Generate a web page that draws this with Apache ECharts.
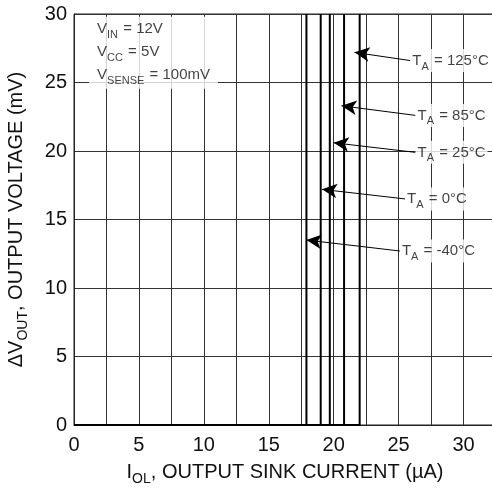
<!DOCTYPE html>
<html><head><meta charset="utf-8">
<script src="https://cdn.jsdelivr.net/npm/echarts@6/dist/echarts.min.js"></script>
<style>html,body{margin:0;padding:0;background:#fff}#c{width:492px;height:489px}</style>
</head><body><div id="c"></div>
<script>
// Data
const temps = ['125°C', '85°C', '25°C', '0°C', '-40°C'];
const thresholdCurrent = [22.0, 20.8, 19.7, 19.0, 17.9]; // µA where ΔVout jumps
const yTop = 30;
const arrowTail = [[25.9, 26.6], [26.3, 22.6], [26.3, 19.9], [25.5, 16.5], [25.1, 12.7]];
const arrowTip = [[21.6, 27.2], [20.6, 23.3], [20.0, 20.6], [19.1, 17.2], [17.9, 13.5]];
const xTicks = [0, 5, 10, 15, 20, 25, 30];
const yTicks = [0, 5, 10, 15, 20, 25, 30];
const conditionsPos = [1.16, 29.8];

const FONT = 'Liberation Sans, Arial, sans-serif';
const rich = {
  n: { fontSize: 15, fontFamily: FONT, color: '#111', lineHeight: 23, verticalAlign: 'middle' },
  s: { fontSize: 11, fontFamily: FONT, color: '#111', lineHeight: 23, verticalAlign: 'bottom', padding: [0, 1, 0, 0] }
};
const nameRich = {
  n: { fontSize: 20, fontFamily: FONT, color: '#111', lineHeight: 28, verticalAlign: 'middle' },
  s: { fontSize: 14, fontFamily: FONT, color: '#111', lineHeight: 28, verticalAlign: 'bottom' }
};

const series = temps.map((t, i) => ({
  type: 'line',
  name: t,
  data: [[0, 0], [thresholdCurrent[i], 0], [thresholdCurrent[i], yTop]],
  symbol: 'none',
  lineStyle: { color: '#000', width: 2 },
  z: 3,
  silent: true
}));

series.push({
  type: 'line',
  data: [],
  silent: true,
  markLine: {
    silent: true,
    symbol: ['none', 'arrow'],
    symbolSize: [11, 15],
    lineStyle: { color: '#000', width: 1, type: 'solid' },
    label: { show: false },
    data: temps.map((t, i) => [{ coord: arrowTail[i] }, { coord: arrowTip[i] }])
  },
  z: 4
});

series.push({
  type: 'scatter',
  symbolSize: 0,
  silent: true,
  data: temps.map((t, i) => arrowTail[i]),
  label: {
    show: true,
    position: 'right',
    distance: 0,
    backgroundColor: '#fff',
    padding: [0, 2, 0, 2],
    formatter: p => '{n|T}{s|A}{n| = ' + temps[p.dataIndex] + '}',
    rich: rich
  },
  z: 5
});

series.push({
  type: 'scatter',
  symbolSize: 0,
  silent: true,
  data: [conditionsPos],
  label: {
    show: true,
    position: 'right',
    distance: 0,
    align: 'left',
    verticalAlign: 'top',
    backgroundColor: '#fff',
    padding: [1, 8, 2, 8],
    formatter: () => '{n|V}{s|IN}{n| = 12V}\n{n|V}{s|CC}{n| = 5V}\n{n|V}{s|SENSE}{n| = 100mV}',
    rich: rich
  },
  z: 5
});

const chart = echarts.init(document.getElementById('c'), null, { renderer: 'canvas' });
chart.setOption({
  animation: false,
  backgroundColor: '#fff',
  grid: { left: 74, top: 14, right: -4, bottom: 64, containLabel: false, outerBoundsMode: 'none',
          show: true, borderColor: '#222', borderWidth: 1 },
  xAxis: {
    type: 'value', min: 0, max: 32.5, interval: 2.5,
    axisLine: { show: true, lineStyle: { color: '#222', width: 1 } },
    axisTick: { show: false },
    axisLabel: {
      fontSize: 20, fontFamily: FONT, color: '#111', margin: 10, showMaxLabel: false,
      formatter: v => (xTicks.indexOf(v) >= 0 ? String(v) : '')
    },
    splitLine: { show: true, lineStyle: { color: '#333', width: 1 } },
    name: '{n|I}{s|OL}{n|, OUTPUT SINK CURRENT (µA)}',
    nameLocation: 'middle', nameGap: 33,
    nameTextStyle: { rich: nameRich }
  },
  yAxis: {
    type: 'value', min: 0, max: 30, interval: 5,
    axisLine: { show: true, lineStyle: { color: '#222', width: 1 } },
    axisTick: { show: false },
    axisLabel: {
      fontSize: 20, fontFamily: FONT, color: '#111', margin: 7,
      formatter: v => (yTicks.indexOf(v) >= 0 ? String(v) : '')
    },
    splitLine: { show: true, lineStyle: { color: '#333', width: 1 } },
    name: '{n|ΔV}{s|OUT}{n|, OUTPUT VOLTAGE (mV)}',
    nameLocation: 'middle', nameGap: 44, nameRotate: 90,
    nameTextStyle: { rich: nameRich }
  },
  series: series
});
</script></body></html>
